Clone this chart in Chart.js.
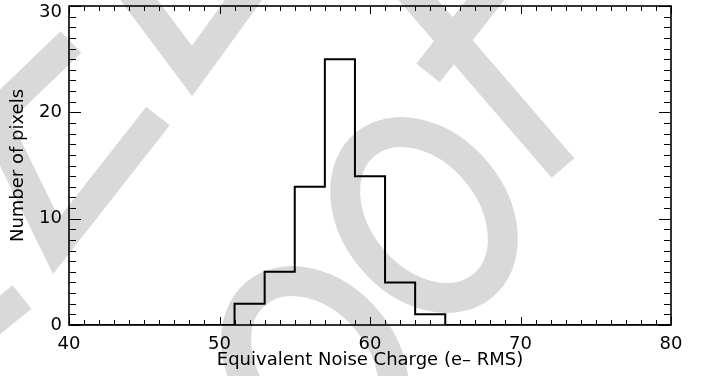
<!DOCTYPE html>
<html>
<head>
<meta charset="utf-8">
<script src="https://cdn.jsdelivr.net/npm/chart.js@4.4.0/dist/chart.umd.min.js"></script>
<style>
  html, body { margin: 0; padding: 0; background: #fff; }
  canvas { display: block; }
</style>
</head>
<body>
<canvas id="chart" width="706" height="376"></canvas>
<script>
// histogram of equivalent noise charge per pixel
const xTitle = 'Equivalent Noise Charge (e\u2013 RMS)';
const yTitle = 'Number of pixels';
const binStarts = [51, 53, 55, 57, 59, 61, 63];
const binCounts = [2, 5, 13, 25, 14, 4, 1];
const binWidth = 2;
const xRange = [40, 80];
const yRange = [0, 30];
const yTickLabels = [0, 10, 20, 30];
const majorStep = 10;

// light grey background lettering, canvas pixels
const watermarkLines = [
    [[124, -20], [192, 71], [258, -20]],
    [[71, 42], [-60, 168]],
    [[-16, 99], [56, 246], [158, 116]],
    [[22, 297], [-59, 363]],
    [[563, 168], [401, -20]],
    [[428, 73], [497, -15]]
];
const watermarkRings = [
    [424, 215],
    [315, 364]
];

const steps = [{ x: xRange[0], y: 0 }];
binStarts.forEach((x, i) => steps.push({ x: x, y: binCounts[i] }));
steps.push({ x: binStarts[binStarts.length - 1] + binWidth, y: 0 });
steps.push({ x: xRange[1], y: 0 });

const font = { family: 'DejaVu Sans', size: 18 };

const watermark = {
    id: 'watermark',
    beforeDraw(chart) {
        const ctx = chart.ctx;
        ctx.save();
        ctx.strokeStyle = '#d9d9d9';
        ctx.lineWidth = 30;
        ctx.lineCap = 'butt';
        ctx.lineJoin = 'miter';
        watermarkLines.forEach(line => {
            ctx.beginPath();
            line.forEach(([px, py], i) => i ? ctx.lineTo(px, py) : ctx.moveTo(px, py));
            ctx.stroke();
        });
        watermarkRings.forEach(([cx, cy]) => {
            ctx.beginPath();
            ctx.ellipse(cx, cy, 92, 68, 50 * Math.PI / 180, 0, Math.PI * 2);
            ctx.stroke();
        });
        ctx.restore();
    }
};

// box frame with inward ticks on all four sides, y labels kept inside the canvas
const frame = {
    id: 'frame',
    afterDraw(chart) {
        const { ctx, chartArea: { left, right, top, bottom }, scales: { x, y } } = chart;
        ctx.save();
        ctx.strokeStyle = '#000';
        ctx.lineWidth = 1;
        ctx.beginPath();
        for (let v = xRange[0]; v <= xRange[1]; v++) {
            const px = Math.round(x.getPixelForValue(v)) + 0.5;
            const len = v % majorStep === 0 ? 8 : 5;
            ctx.moveTo(px, bottom); ctx.lineTo(px, bottom - len);
            ctx.moveTo(px, top); ctx.lineTo(px, top + len);
        }
        for (let v = yRange[0]; v <= yRange[1]; v++) {
            const py = Math.round(y.getPixelForValue(v)) + 0.5;
            const len = v % majorStep === 0 ? 12 : 7;
            ctx.moveTo(left, py); ctx.lineTo(left + len, py);
            ctx.moveTo(right, py); ctx.lineTo(right - len, py);
        }
        ctx.stroke();
        ctx.lineWidth = 1.6;
        ctx.strokeRect(left, top, right - left, bottom - top);

        ctx.fillStyle = '#000';
        ctx.font = font.size + 'px ' + font.family;
        ctx.textAlign = 'right';
        ctx.textBaseline = 'middle';
        yTickLabels.forEach(v => {
            const py = Math.max(y.getPixelForValue(v), 12);
            ctx.fillText(String(v), left - 7, py);
        });
        ctx.restore();
    }
};

new Chart(document.getElementById('chart'), {
    type: 'line',
    data: {
        datasets: [{
            data: steps,
            stepped: 'before',
            borderColor: '#000',
            borderWidth: 2,
            pointRadius: 0,
            fill: false
        }]
    },
    options: {
        responsive: false,
        animation: false,
        devicePixelRatio: 1,
        layout: { padding: { left: 0, top: 6, right: 35, bottom: 0 } },
        plugins: { legend: { display: false }, tooltip: { enabled: false } },
        scales: {
            x: {
                type: 'linear',
                min: xRange[0],
                max: xRange[1],
                grid: { display: false },
                border: { display: false },
                ticks: { stepSize: majorStep, color: '#000', font: font, padding: 1, maxRotation: 0 },
                title: { display: true, text: xTitle, color: '#000', font: font, padding: { top: 0, bottom: 5 } },
                afterFit: s => { s.height = 51; s.paddingLeft = 0; s.paddingRight = 0; }
            },
            y: {
                min: yRange[0],
                max: yRange[1],
                grid: { display: false },
                border: { display: false },
                ticks: { display: false, stepSize: majorStep },
                title: { display: true, text: yTitle, color: '#000', font: font, padding: { top: 8, bottom: 0 } },
                afterFit: s => { s.width = 69; s.paddingTop = 0; s.paddingBottom = 0; }
            }
        }
    },
    plugins: [watermark, frame]
});
</script>
</body>
</html>
